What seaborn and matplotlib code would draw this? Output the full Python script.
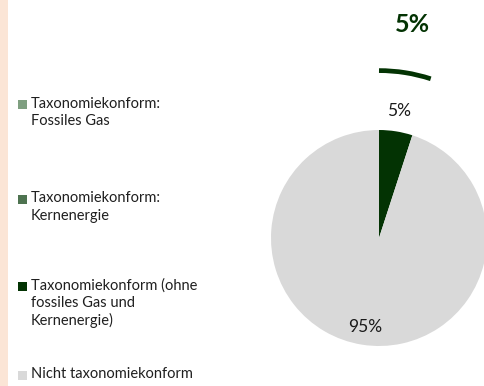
import numpy as np
import matplotlib
matplotlib.use("Agg")
import matplotlib.pyplot as plt
from matplotlib.patches import Arc, Rectangle
import seaborn as sns

# data
categories = ["Taxonomiekonform:\nFossiles Gas",
              "Taxonomiekonform:\nKernenergie",
              "Taxonomiekonform (ohne\nfossiles Gas und\nKernenergie)",
              "Nicht taxonomiekonform"]
shares = [0, 0, 5, 95]
colors = ["#7F9F80", "#4E7350", "#033303", "#D9D9D9"]
highlight_total = 5  # sum of taxonomy-aligned shares, shown above the arc

sns.set_theme(style="white")
plt.rcParams["font.family"] = ["Lato", "DejaVu Sans"]

W, H = 485, 386
fig = plt.figure(figsize=(W / 100, H / 100), dpi=100)

# peach strip on the left edge
fig.patches.append(Rectangle((0, 0), 8 / W, 1, transform=fig.transFigure,
                             facecolor="#FBE5D6", edgecolor="none"))

# pie axes: center (379, 238) px from top, radius 108 px
cx, cy, R = 379, 238, 108
L = 2.2
S = 2 * L * R
ax = fig.add_axes([(cx - S / 2) / W, (H - cy - S / 2) / H, S / W, S / H])

wedges, _ = ax.pie(shares, colors=colors, startangle=90, counterclock=False,
                   wedgeprops=dict(linewidth=0))
ax.set_xlim(-L, L)
ax.set_ylim(-L, L)
ax.set_aspect("equal")
ax.axis("off")

# percentage labels
for w, v in zip(wedges, shares):
    if v == 0:
        continue
    mid = np.deg2rad((w.theta1 + w.theta2) / 2)
    r = 1.19 if v < 50 else 0.83
    ax.text(r * np.cos(mid), r * np.sin(mid), f"{v}%", ha="center", va="center",
            fontsize=12.5, color="#1a1a1a")

# arc over the taxonomy-aligned slices with total above
aligned = [w for w, v in zip(wedges, shares[:3]) if v > 0]
t1 = min(w.theta1 for w in aligned)
t2 = max(w.theta2 for w in aligned)
arc = Arc((0, 0), 2 * 1.55, 2 * 1.55, theta1=t1, theta2=t2,
          color="#033303", linewidth=3.4, clip_on=False)
ax.add_patch(arc)
mid = np.deg2rad((t1 + t2) / 2)
ax.text(2.0 * np.cos(mid), 2.0 * np.sin(mid), f"{highlight_total}%",
        ha="center", va="center", fontsize=18, fontweight="bold",
        color="#033303", clip_on=False)

# legend drawn manually
legend_y = [104.5, 199.5, 286, 375]
for lab, col, y in zip(categories, colors, legend_y):
    fig.patches.append(Rectangle((18 / W, (H - y - 4.5) / H), 9 / W, 9 / H,
                                 transform=fig.transFigure,
                                 facecolor=col, edgecolor="none"))
    fig.text(31 / W, (H - y + 8) / H, lab, ha="left", va="top",
             fontsize=10.5, color="#1f1f1f", linespacing=1.3)

fig.savefig("out.png", dpi=100)
